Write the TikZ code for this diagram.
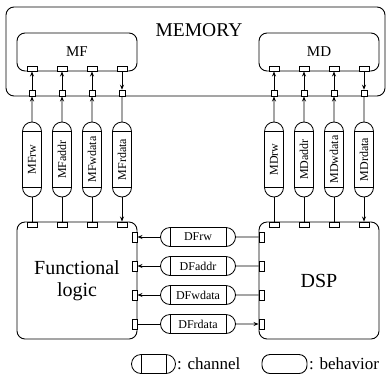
\documentclass[tikz,border=0pt]{standalone}
\usepackage{fontspec}
\setmainfont{Liberation Serif}
\usepackage{tikz}
\usetikzlibrary{arrows.meta,shapes.misc,calc}
\tikzset{
  behavior/.style={
    rectangle,
    rounded corners=8pt,
    draw,
    line width=0.9pt,
    inner sep=2pt,
  },
  channel/.style={
    rounded rectangle,
    draw,
    line width=0.8pt,
    minimum width=75pt,
    minimum height=19pt,
    inner sep=0pt,
    outer sep=0pt,
    font=\fontsize{12}{14}\selectfont,
    % the two bars that close off the body of the channel
    append after command={
      ($(\tikzlastnode.west)!9.5pt!(\tikzlastnode.east)!9.5pt!90:(\tikzlastnode.east)$)
        edge[line width=0.8pt]
      ($(\tikzlastnode.west)!9.5pt!(\tikzlastnode.east)!9.5pt!-90:(\tikzlastnode.east)$)
      ($(\tikzlastnode.east)!9.5pt!(\tikzlastnode.west)!9.5pt!90:(\tikzlastnode.west)$)
        edge[line width=0.8pt]
      ($(\tikzlastnode.east)!9.5pt!(\tikzlastnode.west)!9.5pt!-90:(\tikzlastnode.west)$)
    },
  },
  port/.style={rectangle, draw, line width=0.7pt, fill=white,
    minimum width=10pt, minimum height=5pt, inner sep=0pt},
  side port/.style={port, minimum width=5pt, minimum height=10pt},
  mem port/.style={port, minimum width=6pt, minimum height=6pt},
  link/.style={-{Stealth[length=5pt,width=4pt]}, line width=0.8pt},
  wire/.style={line width=0.8pt},
  big/.style={font=\fontsize{20}{22}\selectfont},
}

\begin{document}
\begin{tikzpicture}[x=1pt,y=-1pt]
  \useasboundingbox (0,0) rectangle (387,378);

  % memory with its two behaviors
  \node[behavior, minimum width=379pt, minimum height=89pt] (mem) at (195.5,51.5) {};
  \node[font=\fontsize{19.5}{21}\selectfont] (memname) at (199,30) {MEMORY};
  \node[behavior, minimum width=120pt, minimum height=38pt,
    font=\fontsize{15}{17}\selectfont] (mf) at (77,52) {MF};
  \node[behavior, minimum width=120pt, minimum height=38pt,
    font=\fontsize{15}{17}\selectfont] (md) at (319,52) {MD};

  % the two processing behaviors
  \node[behavior, big, align=center, minimum width=120pt, minimum height=117pt]
    (fl) at (77,280.5) {Functional\\logic};
  \node[behavior, big, minimum width=120pt, minimum height=117pt] (dsp) at (319,280.5) {DSP};

  % ports on MF / MD
  \node[port, anchor=south] (mf1) at ([xshift=-45pt]mf.south) {};
  \node[port, anchor=south] (mf2) at ([xshift=-15pt]mf.south) {};
  \node[port, anchor=south] (mf3) at ([xshift=15pt]mf.south) {};
  \node[port, anchor=south] (mf4) at ([xshift=45pt]mf.south) {};
  \node[port, anchor=south] (md1) at ([xshift=-45pt]md.south) {};
  \node[port, anchor=south] (md2) at ([xshift=-15pt]md.south) {};
  \node[port, anchor=south] (md3) at ([xshift=15pt]md.south) {};
  \node[port, anchor=south] (md4) at ([xshift=45pt]md.south) {};

  % ports on the memory border
  \node[mem port, anchor=south] (mm1) at (mf1 |- mem.south) {};
  \node[mem port, anchor=south] (mm2) at (mf2 |- mem.south) {};
  \node[mem port, anchor=south] (mm3) at (mf3 |- mem.south) {};
  \node[mem port, anchor=south] (mm4) at (mf4 |- mem.south) {};
  \node[mem port, anchor=south] (mm5) at (md1 |- mem.south) {};
  \node[mem port, anchor=south] (mm6) at (md2 |- mem.south) {};
  \node[mem port, anchor=south] (mm7) at (md3 |- mem.south) {};
  \node[mem port, anchor=south] (mm8) at (md4 |- mem.south) {};

  % ports on top of functional logic / DSP
  \node[port, anchor=north] (fl1) at (mf1 |- fl.north) {};
  \node[port, anchor=north] (fl2) at (mf2 |- fl.north) {};
  \node[port, anchor=north] (fl3) at (mf3 |- fl.north) {};
  \node[port, anchor=north] (fl4) at (mf4 |- fl.north) {};
  \node[port, anchor=north] (ds1) at (md1 |- dsp.north) {};
  \node[port, anchor=north] (ds2) at (md2 |- dsp.north) {};
  \node[port, anchor=north] (ds3) at (md3 |- dsp.north) {};
  \node[port, anchor=north] (ds4) at (md4 |- dsp.north) {};

  % vertical channels
  \node[channel, rotate=90] (mfrw) at (32,159.5) {MFrw};
  \node[channel, rotate=90] (mfaddr) at (62,159.5) {MFaddr};
  \node[channel, rotate=90] (mfwdata) at (92,159.5) {MFwdata};
  \node[channel, rotate=90] (mfrdata) at (122,159.5) {MFrdata};
  \node[channel, rotate=90] (mdrw) at (274,159.5) {MDrw};
  \node[channel, rotate=90] (mdaddr) at (304,159.5) {MDaddr};
  \node[channel, rotate=90] (mdwdata) at (334,159.5) {MDwdata};
  \node[channel, rotate=90] (mdrdata) at (364,159.5) {MDrdata};

  % horizontal channels
  \node[channel] (dfrw) at (198,237) {DFrw};
  \node[channel] (dfaddr) at (198,266) {DFaddr};
  \node[channel] (dfwdata) at (198,295) {DFwdata};
  \node[channel] (dfrdata) at (198,324) {DFrdata};

  % side ports
  \node[side port, anchor=east] (fr1) at (fl.east |- dfrw) {};
  \node[side port, anchor=east] (fr2) at (fl.east |- dfaddr) {};
  \node[side port, anchor=east] (fr3) at (fl.east |- dfwdata) {};
  \node[side port, anchor=east] (fr4) at (fl.east |- dfrdata) {};
  \node[side port, anchor=west] (dl1) at (dsp.west |- dfrw) {};
  \node[side port, anchor=west] (dl2) at (dsp.west |- dfaddr) {};
  \node[side port, anchor=west] (dl3) at (dsp.west |- dfwdata) {};
  \node[side port, anchor=west] (dl4) at (dsp.west |- dfrdata) {};

  % functional logic <-> MF
  \draw[wire] (fl1) -- (mfrw);  \draw[link] (mfrw) -- (mm1);  \draw[link] (mm1) -- (mf1);
  \draw[wire] (fl2) -- (mfaddr);  \draw[link] (mfaddr) -- (mm2);  \draw[link] (mm2) -- (mf2);
  \draw[wire] (fl3) -- (mfwdata);  \draw[link] (mfwdata) -- (mm3);  \draw[link] (mm3) -- (mf3);
  \draw[link] (mf4) -- (mm4);  \draw[wire] (mm4) -- (mfrdata);  \draw[link] (mfrdata) -- (fl4);

  % DSP <-> MD
  \draw[wire] (ds1) -- (mdrw);  \draw[link] (mdrw) -- (mm5);  \draw[link] (mm5) -- (md1);
  \draw[wire] (ds2) -- (mdaddr);  \draw[link] (mdaddr) -- (mm6);  \draw[link] (mm6) -- (md2);
  \draw[wire] (ds3) -- (mdwdata);  \draw[link] (mdwdata) -- (mm7);  \draw[link] (mm7) -- (md3);
  \draw[link] (md4) -- (mm8);  \draw[wire] (mm8) -- (mdrdata);  \draw[link] (mdrdata) -- (ds4);

  % DSP <-> functional logic
  \draw[wire] (dl1) -- (dfrw);  \draw[link] (dfrw) -- (fr1);
  \draw[wire] (dl2) -- (dfaddr);  \draw[link] (dfaddr) -- (fr2);
  \draw[wire] (dl3) -- (dfwdata);  \draw[link] (dfwdata) -- (fr3);
  \draw[wire] (fr4) -- (dfrdata);  \draw[link] (dfrdata) -- (dl4);

  % legend
  \node[channel, minimum width=44pt] (keychan) at (153.5,364) {};
  \node[anchor=west, font=\fontsize{17}{19}\selectfont, inner sep=1.5pt] (keychantext) at (keychan.east) {: channel};
  \node[behavior, minimum width=45pt, minimum height=19pt] (keybeh) at (284.5,364) {};
  \node[anchor=west, font=\fontsize{17}{19}\selectfont, inner sep=1.5pt] (keybehtext) at (keybeh.east) {: behavior};
\end{tikzpicture}
\end{document}
